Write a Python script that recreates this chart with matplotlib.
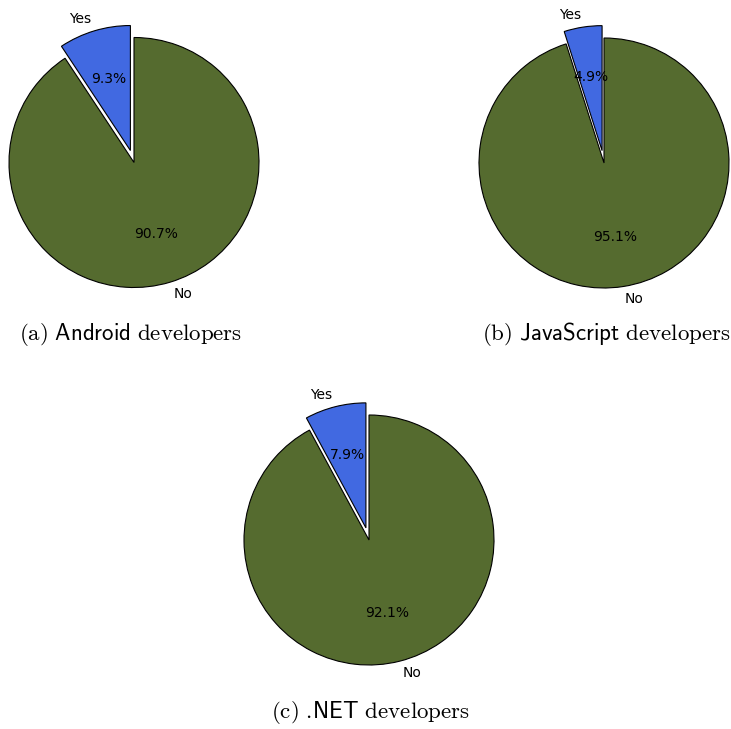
import matplotlib
matplotlib.use("Agg")
import matplotlib.pyplot as plt

# ─── Data ────────────────────────────────────────────────────────────────────
labels = ["Yes", "No"]
android_share = [9.3, 90.7]
javascript_share = [4.9, 95.1]
dotnet_share = [7.9, 92.1]

captions = [
    r"$\mathrm{(a)\ }\mathsf{Android}\mathrm{\ developers}$",
    r"$\mathrm{(b)\ }\mathsf{JavaScript}\mathrm{\ developers}$",
    r"$\mathrm{(c)\ }\mathsf{.\!NET}\mathrm{\ developers}$",
]

# ─── Style ───────────────────────────────────────────────────────────────────
plt.rcParams["mathtext.fontset"] = "cm"
COLORS = ["royalblue", "darkolivegreen"]

W, H = 731, 729
fig = plt.figure(figsize=(W / 100, H / 100), dpi=100)

# pie centres in pixel coords (from top-left), radius 125 px
centres = [(134, 162.5), (604, 163), (369, 540)]
caption_pos = [(131, 334), (606, 334), (370, 713)]
AX = 312.5  # axes side in px for xlim (-1.25, 1.25)


def draw_pie(values, centre):
    cx, cy = centre
    ax = fig.add_axes([(cx - AX / 2) / W, (H - cy - AX / 2) / H, AX / W, AX / H])
    ax.pie(values, labels=labels, colors=COLORS, explode=(0.1, 0.0),
           startangle=90, autopct="%1.1f%%",
           wedgeprops={"edgecolor": "black", "linewidth": 0.8})
    ax.set_xlim(-1.25, 1.25)
    ax.set_ylim(-1.25, 1.25)
    ax.set_aspect("equal")
    for child in ax.get_children():
        child.set_clip_on(False)
    return ax


for vals, c in zip([android_share, javascript_share, dotnet_share], centres):
    draw_pie(vals, c)

for cap, (x, y) in zip(captions, caption_pos):
    fig.text(x / W, 1 - y / H, cap, ha="center", va="center", fontsize=16.5)

fig.savefig("out.png", dpi=100, facecolor="white")
